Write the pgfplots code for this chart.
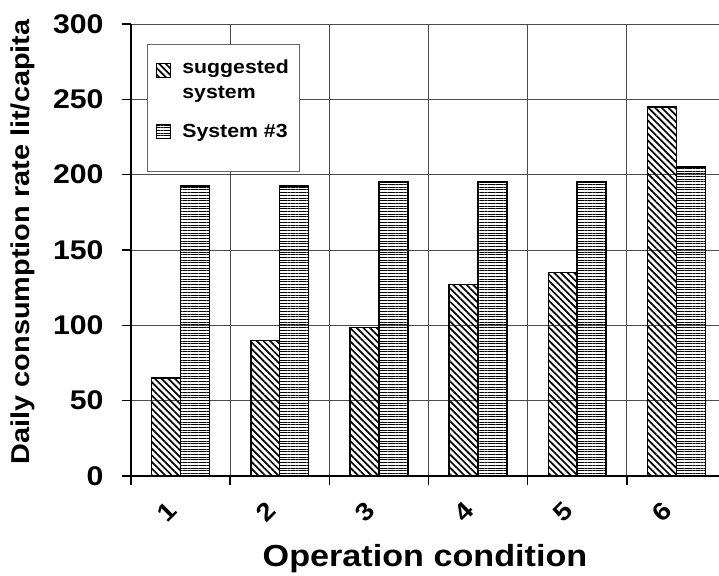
\documentclass[border=0pt]{standalone}
\usepackage{fontspec}
\setmainfont{Liberation Sans}[FakeStretch=1.12]
\usepackage{pgfplots}
\pgfplotsset{compat=1.18}
\usetikzlibrary{patterns.meta}
\pgfplotsset{
  legA/.style={legend image code/.code={\draw[##1, line width=1bp] (0bp,2bp) rectangle (14bp,16bp);}},
  legB/.style={legend image code/.code={\draw[##1, line width=1bp] (0bp,2bp) rectangle (14bp,16bp);}},
}
\begin{document}
\begin{tikzpicture}
\begin{axis}[
  name=ax,
  scale only axis, width=588bp, height=452bp,
  xmin=0.5, xmax=6.43, ymin=0, ymax=300,
  ybar=0pt, bar width=0.292,
  axis lines*=left, axis line style={line width=2.6bp},
  ytick={0,50,...,300},
  xtick={0.5,1.5,...,5.5},
  xticklabels={},
  extra x ticks={1,2,3,4,5,6},
  extra x tick labels={1,2,3,4,5,6},
  extra x tick style={major tick length=0pt, grid=none},
  ymajorgrids, xmajorgrids,
  grid style={black!70, line width=0.9bp},
  tick align=outside,
  major tick length=9bp,
  tick style={line width=1.5bp, black},
  /pgf/number format/assume math mode=true,
  yticklabel style={font=\fontsize{27bp}{30bp}\selectfont\bfseries, xshift=-15bp},
  xticklabel style={font=\fontsize{25bp}{28bp}\selectfont\bfseries, xshift=-14bp, yshift=-36bp, rotate=45, anchor=center},
  xlabel={Operation condition},
  ylabel={Daily consumption rate lit/capita},
  xlabel style={font=\fontsize{30.5bp}{34bp}\selectfont\bfseries, at={(axis description cs:0.5,-0.2006)}, anchor=base},
  ylabel style={font=\fontsize{25.8bp}{28bp}\selectfont\bfseries, at={(axis description cs:-0.184,0.518)}, anchor=center},
  legend style={at={(0.027,0.956)}, anchor=north west, draw=black!60, line width=1bp,
    font=\fontsize{19bp}{25bp}\selectfont\bfseries,
    cells={align=center},
    inner xsep=9bp, inner ysep=13bp, row sep=20bp, column sep=9bp},
]
\addplot[draw=black, line width=1.5bp, pattern={Lines[angle=-45,distance=4.7bp,line width=1.7bp]}, legA]
  coordinates {(1,65) (2,90) (3,98.5) (4,127) (5,135) (6,245)};
\addplot[draw=black, line width=1.5bp, pattern={Lines[angle=0,distance=2.7bp,line width=0.9bp]}, legB]
  coordinates {(1,192.5) (2,192.5) (3,195) (4,195) (5,195) (6,205)};
\legend{{suggested\\\rlap{system}\phantom{suggested}}, {\rlap{System \#3}\phantom{suggested}\\[-7bp]\strut}}
\end{axis}
\pgfresetboundingbox
\path[use as bounding box] ([xshift=-131bp,yshift=-100bp]ax.south west) rectangle ([yshift=24bp]ax.north east);
\end{tikzpicture}
\end{document}
